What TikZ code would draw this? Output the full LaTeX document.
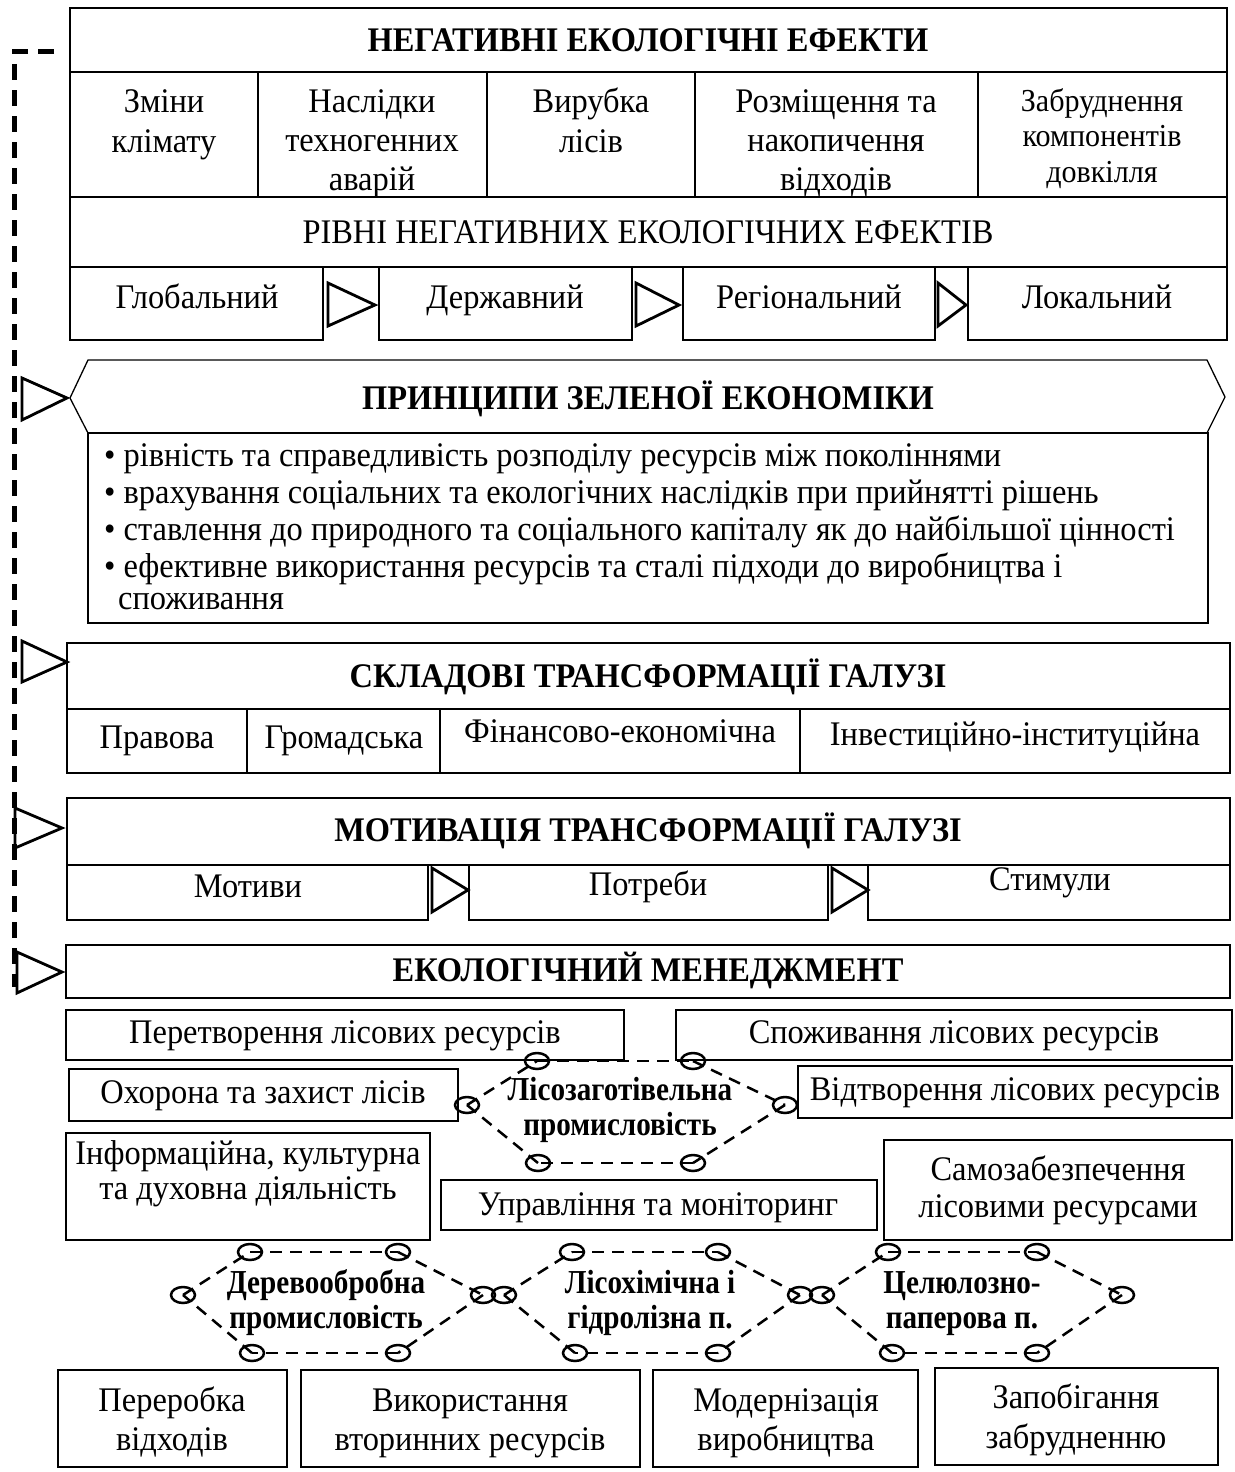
\documentclass[tikz,border=0pt]{standalone}
\usepackage{fontspec}
\setmainfont{Liberation Serif}[FakeStretch=0.94]
\newfontfamily\hexfont{Liberation Serif}[FakeStretch=0.87]
\usetikzlibrary{shapes.geometric}
\tikzset{
 cbox/.style={draw, line width=1.3pt, inner sep=0pt},
 txt/.style={inner sep=0pt, anchor=base, font=\fontsize{34.5}{38}\selectfont},
 ttl/.style={inner sep=0pt, anchor=base, font=\fontsize{34.5}{38}\selectfont\bfseries},
 smalltxt/.style={inner sep=0pt, anchor=base, font=\fontsize{32}{36}\selectfont},
 hexlbl/.style={inner sep=0pt, anchor=base, font=\hexfont\fontsize{33.5}{36}\selectfont\bfseries},
 tri/.style={draw, line width=2.8pt, line join=miter},
 frameline/.style={line width=1.3pt},
 dashline/.style={line width=5pt, dash pattern=on 16pt off 10pt},
 hexedge/.style={line width=2.5pt, dash pattern=on 12pt off 8pt},
 knob/.style={ellipse, draw, line width=2.5pt, minimum width=24pt, minimum height=16pt, inner sep=0pt},
}
\newcommand\cellbox[5]{\node[cbox, minimum width={#4-#2}, minimum height={#5-#3}] (#1) at ({(#2+#4)/2},{(#3+#5)/2}) {};}
\newcommand\hexgon[7]{% prefix, six points
 \node[knob] (#1a) at (#2) {};
 \node[knob] (#1b) at (#3) {};
 \node[knob] (#1c) at (#4) {};
 \node[knob] (#1d) at (#5) {};
 \node[knob] (#1e) at (#6) {};
 \node[knob] (#1f) at (#7) {};
 \draw[hexedge] (#1a.center) -- (#1b.center);
 \draw[hexedge] (#1b.center) -- (#1c.center);
 \draw[hexedge] (#1c.center) -- (#1d.center);
 \draw[hexedge] (#1d.center) -- (#1e.center);
 \draw[hexedge] (#1e.center) -- (#1f.center);
 \draw[hexedge] (#1f.center) -- (#1a.center);
}
\begin{document}
\begin{tikzpicture}[x=1pt,y=-1pt]
\useasboundingbox (0,0) rectangle (1234,1472);

% ---------- Negative effects ----------
\cellbox{neg}{70}{8}{1227}{72}
\node[ttl] (negt) at (648,52) {НЕГАТИВНІ ЕКОЛОГІЧНІ ЕФЕКТИ};
\cellbox{e1}{70}{72}{258}{197}
\cellbox{e2}{258}{72}{487}{197}
\cellbox{e3}{487}{72}{695}{197}
\cellbox{e4}{695}{72}{978}{197}
\cellbox{e5}{978}{72}{1227}{197}
\node[txt] (e1a) at (164,112) {Зміни};
\node[txt] (e1b) at (164,152) {клімату};
\node[txt] (e2a) at (372,112) {Наслідки};
\node[txt] (e2b) at (372,151) {техногенних};
\node[txt] (e2c) at (372,190) {аварій};
\node[txt] (e3a) at (591,112) {Вирубка};
\node[txt] (e3b) at (591,152) {лісів};
\node[txt] (e4a) at (836,112) {Розміщення та};
\node[txt] (e4b) at (836,151) {накопичення};
\node[txt] (e4c) at (836,190) {відходів};
\node[smalltxt] (e5a) at (1102,111) {Забруднення};
\node[smalltxt] (e5b) at (1102,146) {компонентів};
\node[smalltxt] (e5c) at (1102,182) {довкілля};
\cellbox{lvl}{70}{197}{1227}{267}
\node[txt] (lvlt) at (648,243) {РІВНІ НЕГАТИВНИХ ЕКОЛОГІЧНИХ ЕФЕКТІВ};
\cellbox{glob}{70}{267}{323}{340}
\cellbox{derzh}{379}{267}{632}{340}
\cellbox{reg}{683}{267}{935}{340}
\cellbox{lok}{968}{267}{1227}{340}
\node[txt] (globt) at (197,308) {Глобальний};
\node[txt] (derzht) at (505,308) {Державний};
\node[txt] (regt) at (809,308) {Регіональний};
\node[txt] (lokt) at (1097,308) {Локальний};
\draw[tri] (328,283) -- (375,305) -- (328,326) -- cycle;
\draw[tri] (636,283) -- (679,305) -- (636,326) -- cycle;
\draw[tri] (938,283) -- (966,305) -- (938,326) -- cycle;

% ---------- Principles ----------
\draw[frameline] (88,433) -- (70,398) -- (88,360) -- (1207,360) -- (1225,397) -- (1207,433);
\node[ttl] (prin) at (648,409) {ПРИНЦИПИ ЗЕЛЕНОЇ ЕКОНОМІКИ};
\cellbox{prinbox}{88}{433}{1208}{623}
\node[txt, anchor=base west] (p1) at (104,466) {• рівність та справедливість розподілу ресурсів між поколіннями};
\node[txt, anchor=base west] (p2) at (104,503) {• врахування соціальних та екологічних наслідків при прийнятті рішень};
\node[txt, anchor=base west] (p3) at (104,540) {• ставлення до природного та соціального капіталу як до найбільшої цінності};
\node[txt, anchor=base west] (p4) at (104,577) {• ефективне використання ресурсів та сталі підходи до виробництва і};
\node[txt, anchor=base west] (p5) at (118,609) {споживання};

% ---------- Components ----------
\cellbox{skl}{67}{643}{1230}{709}
\node[ttl] (sklt) at (648,687) {СКЛАДОВІ ТРАНСФОРМАЦІЇ ГАЛУЗІ};
\cellbox{s1}{67}{709}{247}{773}
\cellbox{s2}{247}{709}{440}{773}
\cellbox{s3}{440}{709}{800}{773}
\cellbox{s4}{800}{709}{1230}{773}
\node[txt] (s1t) at (157,748) {Правова};
\node[txt] (s2t) at (344,748) {Громадська};
\node[txt] (s3t) at (620,742) {Фінансово-економічна};
\node[txt] (s4t) at (1015,745) {Інвестиційно-інституційна};

% ---------- Motivation ----------
\cellbox{mot}{67}{798}{1230}{865}
\node[ttl] (mott) at (648,841) {МОТИВАЦІЯ ТРАНСФОРМАЦІЇ ГАЛУЗІ};
\cellbox{m1}{67}{865}{428}{920}
\cellbox{m2}{469}{865}{828}{920}
\cellbox{m3}{868}{865}{1230}{920}
\node[txt] (m1t) at (248,897) {Мотиви};
\node[txt] (m2t) at (648,895) {Потреби};
\node[txt] (m3t) at (1050,890) {Стимули};
\draw[tri] (432,868) -- (468,890) -- (432,912) -- cycle;
\draw[tri] (832,868) -- (868,890) -- (832,912) -- cycle;

% ---------- Management ----------
\cellbox{men}{66}{945}{1230}{998}
\node[ttl] (ment) at (648,981) {ЕКОЛОГІЧНИЙ МЕНЕДЖМЕНТ};

% ---------- dashed feedback line ----------
\coordinate (d0) at (54,52);
\coordinate (d1) at (14,52);
\coordinate (d2) at (14,987);
\draw[dashline] (d0) -- (d1) -- (d2);
\draw[tri] (22,378) -- (67,398) -- (22,420) -- cycle;
\draw[tri] (22,641) -- (67,662) -- (22,682) -- cycle;
\draw[tri] (15,808) -- (62,828) -- (15,848) -- cycle;
\draw[tri] (17,952) -- (62,972) -- (17,993) -- cycle;

% ---------- Management boxes ----------
\cellbox{b1}{66}{1010}{624}{1060}
\node[txt] (b1t) at (345,1043) {Перетворення лісових ресурсів};
\cellbox{b2}{676}{1010}{1232}{1060}
\node[txt] (b2t) at (954,1043) {Споживання лісових ресурсів};
\cellbox{b3}{69}{1069}{458}{1121}
\node[txt] (b3t) at (263,1103) {Охорона та захист лісів};
\cellbox{b4}{798}{1066}{1232}{1118}
\node[txt] (b4t) at (1015,1100) {Відтворення лісових ресурсів};
\cellbox{b5}{66}{1133}{430}{1240}
\node[txt] (b5a) at (248,1164) {Інформаційна, культурна};
\node[txt] (b5b) at (248,1199) {та духовна діяльність};
\cellbox{b6}{441}{1180}{877}{1230}
\node[txt] (b6t) at (658,1215) {Управління та моніторинг};
\cellbox{b7}{884}{1140}{1232}{1240}
\node[txt] (b7a) at (1058,1180) {Самозабезпечення};
\node[txt] (b7b) at (1058,1217) {лісовими ресурсами};

% ---------- Industry hexagons ----------
\hexgon{ha}{537,1061}{693,1061}{785,1105}{693,1163}{538,1163}{467,1105}
\node[hexlbl] (hal1) at (620,1100) {Лісозаготівельна};
\node[hexlbl] (hal2) at (620,1135) {промисловість};
\hexgon{hb}{250,1252}{398,1252}{483,1295}{398,1353}{252,1353}{183,1295}
\node[hexlbl] (hbl1) at (326,1293) {Деревообробна};
\node[hexlbl] (hbl2) at (326,1328) {промисловість};
\hexgon{hc}{572,1252}{718,1252}{800,1295}{718,1353}{575,1353}{504,1295}
\node[hexlbl] (hcl1) at (650,1293) {Лісохімічна і};
\node[hexlbl] (hcl2) at (650,1328) {гідролізна п.};
\hexgon{hd}{888,1252}{1037,1252}{1122,1295}{1037,1353}{892,1353}{822,1295}
\node[hexlbl] (hdl1) at (962,1293) {Целюлозно-};
\node[hexlbl] (hdl2) at (962,1328) {паперова п.};

% ---------- Bottom boxes ----------
\cellbox{c1}{58}{1370}{287}{1467}
\node[txt] (c1a) at (172,1411) {Переробка};
\node[txt] (c1b) at (172,1450) {відходів};
\cellbox{c2}{301}{1370}{640}{1467}
\node[txt] (c2a) at (470,1411) {Використання};
\node[txt] (c2b) at (470,1450) {вторинних ресурсів};
\cellbox{c3}{653}{1370}{918}{1467}
\node[txt] (c3a) at (786,1411) {Модернізація};
\node[txt] (c3b) at (786,1450) {виробництва};
\cellbox{c4}{935}{1368}{1218}{1465}
\node[txt] (c4a) at (1076,1408) {Запобігання};
\node[txt] (c4b) at (1076,1448) {забрудненню};
\end{tikzpicture}
\end{document}
